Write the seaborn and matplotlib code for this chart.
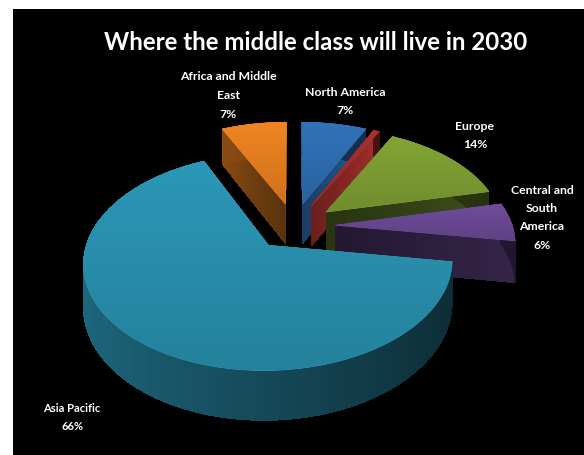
import numpy as np
import matplotlib
matplotlib.use("Agg")
import matplotlib.pyplot as plt
from matplotlib.patches import Polygon, Rectangle
from matplotlib.collections import PolyCollection
import seaborn as sns

# Share of the global middle class by region, clockwise from twelve o'clock
regions = ["North America", "Other", "Europe", "Central and\nSouth\nAmerica", "Asia Pacific", "Africa and Middle\nEast"]
shares = [7, 0.6, 14, 6, 66, 7]
show_label = [True, False, True, True, True, True]
top_hex = ["#2f6fb4", "#a42f2c", "#7fa034", "#6c4a96", "#2a93b2", "#ea8120"]
wall_shade = [0.72, 0.85, 0.42, 0.42, 0.5, 0.5]

label_xy = [(345, 92), None, (475, 126), (542, 190), (72, 408), (228, 77)]
label_size = [8.8, None, 8.8, 8.8, 8.0, 8.8]

WIDTH, HEIGHT = 584, 455
CX, CY, RX, RY = 294.0, 226.0, 177.0, 100.0
PERSPECTIVE = 0.15
EXPLODE = 0.234
DEPTH = 41.0

sns.set_theme(style="dark")
plt.rcParams["font.family"] = ["Lato", "DejaVu Sans"]
palette = sns.color_palette(top_hex)


def project(u, v, z=0.0):
    """Map pie-plane coordinates (and drop below the plane) onto the canvas."""
    s = 1.0 / (1.0 + PERSPECTIVE * v)
    return CX + RX * u * s, CY - RY * v * s + DEPTH * z * s


def shaded(rgb, f):
    return tuple(float(np.clip(c * f, 0, 1)) for c in rgb)


def arc_shade(theta):
    return 0.5 - 0.2 * np.cos(theta)


fig = plt.figure(figsize=(WIDTH / 100, HEIGHT / 100), dpi=100, facecolor="white")
ax = fig.add_axes([0, 0, 1, 1])
ax.set_axis_off()
ax.set_xlim(0, WIDTH)
ax.set_ylim(HEIGHT, 0)
ax.add_patch(Rectangle((13, 9), WIDTH - 13, HEIGHT - 9, facecolor="black", edgecolor="none", zorder=0))

fractions = np.array(shares) / np.sum(shares)
edges = np.pi / 2 - np.concatenate([[0], np.cumsum(fractions)]) * 2 * np.pi

# Slices painted from the back of the pie towards the viewer
for order, i in enumerate([5, 0, 1, 2, 3, 4]):
    a0, a1 = edges[i], edges[i + 1]
    mid = (a0 + a1) / 2
    ox, oy = EXPLODE * np.cos(mid), EXPLODE * np.sin(mid)
    rgb = palette[i]
    base = 10 + order * 3

    theta = np.linspace(a0, a1, max(6, int(abs(a1 - a0) / np.radians(1.5))))
    rim_u, rim_v = ox + np.cos(theta), oy + np.sin(theta)

    # Radial walls
    quads, colors = [], []
    for a in (a0, a1):
        ts = np.linspace(0, 1, 25)
        for t0, t1 in zip(ts[:-1], ts[1:]):
            pts = []
            for t, z in ((t0, 0), (t1, 0), (t1, 1), (t0, 1)):
                pts.append(project(ox + t * np.cos(a), oy + t * np.sin(a), z))
            quads.append(pts)
            colors.append(shaded(rgb, wall_shade[i] * (0.75 + 0.4 * t1)))
    ax.add_collection(PolyCollection(quads, facecolors=colors, edgecolors="none",
                                     antialiaseds=False, zorder=base))

    # Outer curved side
    quads, colors = [], []
    for j in range(len(theta) - 1):
        quads.append([project(rim_u[j], rim_v[j], 0), project(rim_u[j + 1], rim_v[j + 1], 0),
                      project(rim_u[j + 1], rim_v[j + 1], 1), project(rim_u[j], rim_v[j], 1)])
        colors.append(shaded(rgb, arc_shade(theta[j])))
    ax.add_collection(PolyCollection(quads, facecolors=colors, edgecolors="none",
                                     antialiaseds=False, zorder=base + 1))

    # Top surface with a soft vertical gradient
    outline = np.array([project(ox, oy)] + [project(a, b) for a, b in zip(rim_u, rim_v)])
    face = Polygon(outline, closed=True, facecolor=rgb, edgecolor=shaded(rgb, 1.1), linewidth=0.5, zorder=base + 2)
    ax.add_patch(face)
    ramp = np.linspace(1.03, 0.88, 64)[:, None, None] * np.array(rgb)[None, None, :]
    img = ax.imshow(np.clip(ramp, 0, 1), extent=(outline[:, 0].min(), outline[:, 0].max(),
                                                 outline[:, 1].max(), outline[:, 1].min()),
                    aspect="auto", zorder=base + 2.5)
    img.set_clip_path(face)

ax.set_xlim(0, WIDTH)
ax.set_ylim(HEIGHT, 0)

for i, name in enumerate(regions):
    if not show_label[i]:
        continue
    pct = round(100 * fractions[i])
    x, y = label_xy[i]
    for k, line in enumerate((name + f"\n{pct}%").split("\n")):
        ax.text(x, y + k * 18.5, line, color="white", ha="center", va="center",
                fontsize=label_size[i], fontweight="bold", zorder=60)

ax.text(316, 43, "Where the middle class will live in 2030", color="white", ha="center",
        va="center", fontsize=17.3, fontweight="bold", zorder=60)

fig.savefig("out.png", dpi=100, facecolor="white")
